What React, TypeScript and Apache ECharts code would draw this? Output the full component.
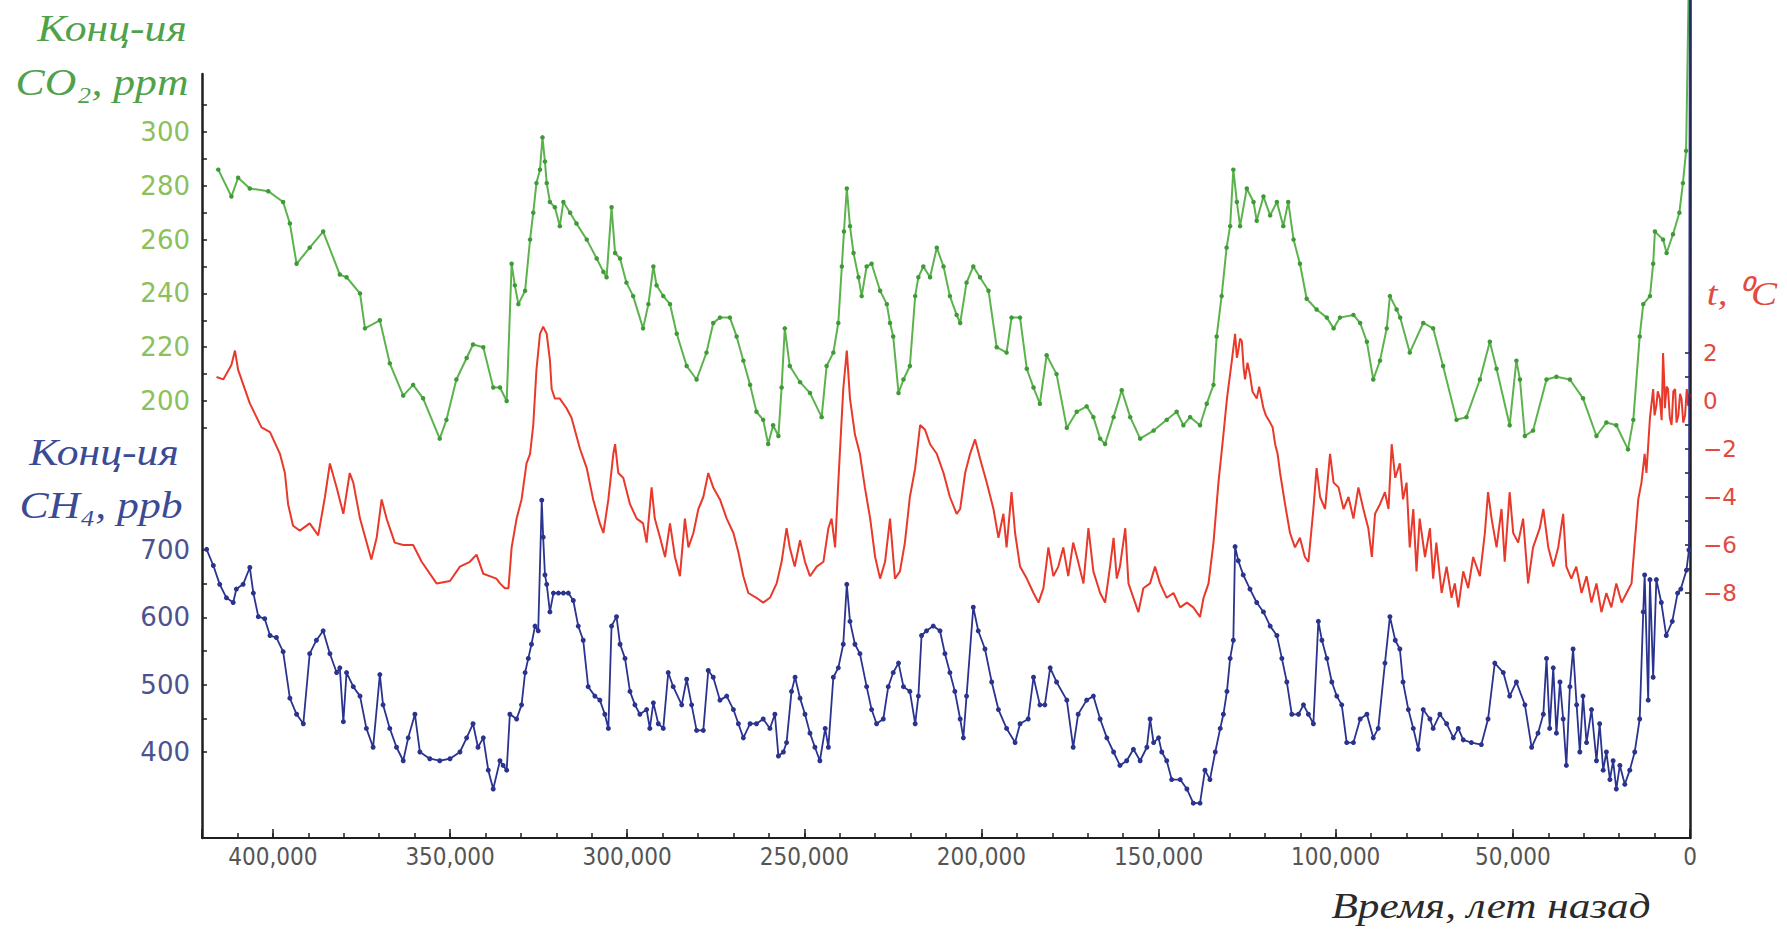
import React, { useEffect, useRef } from 'react';
import * as echarts from 'echarts';

// Vostok ice core record: [age, kyr before present, value]
const co2Ppm: [number, number][] = [
  [415.4, 286], [411.7, 276], [409.8, 283], [406.5, 279], [401.3, 278], [397.1, 274], [395.2, 266], [393.3, 251],
  [389.6, 257], [385.8, 263], [381.1, 247], [379.2, 246], [375.4, 240], [374.0, 227], [369.8, 230], [367.0, 214],
  [363.2, 202], [360.4, 206], [357.6, 201], [352.9, 186], [351.0, 193], [348.2, 208], [345.3, 216], [343.5, 221],
  [340.6, 220], [337.8, 205], [335.9, 205], [334.0, 200], [332.6, 251], [331.7, 243], [330.7, 236], [328.8, 241],
  [327.4, 260], [326.5, 270], [325.6, 281], [324.6, 286], [323.9, 298], [323.2, 289], [322.7, 281], [321.8, 274],
  [320.4, 272], [319.0, 265], [318.0, 274], [316.1, 270], [314.3, 266], [311.4, 260], [308.6, 253], [306.7, 248],
  [305.8, 246], [304.4, 272], [303.4, 255], [302.0, 253], [300.2, 244], [298.3, 239], [295.5, 227], [294.0, 236],
  [292.6, 250], [291.7, 243], [289.8, 239], [287.9, 236], [286.0, 225], [283.2, 213], [280.4, 208], [277.6, 218],
  [275.7, 229], [273.8, 231], [271.0, 231], [269.1, 224], [267.2, 215], [265.3, 206], [263.5, 196], [261.6, 193],
  [260.2, 184], [258.8, 191], [257.3, 187], [256.4, 205], [255.5, 227], [254.1, 213], [251.2, 207], [248.4, 203],
  [245.1, 194], [243.7, 213], [241.8, 218], [240.4, 229], [239.4, 250], [238.8, 263], [238.0, 279], [237.1, 265],
  [236.1, 255], [234.7, 246], [233.8, 239], [232.4, 250], [231.0, 251], [228.6, 241], [226.7, 236], [225.8, 229],
  [224.9, 224], [223.4, 203], [222.0, 208], [220.2, 213], [218.7, 239], [217.8, 246], [216.4, 250], [214.5, 246],
  [212.6, 257], [210.7, 250], [208.9, 239], [207.0, 232], [206.0, 229], [204.2, 244], [202.3, 250], [200.4, 246],
  [198.0, 241], [195.7, 220], [192.9, 218], [191.5, 231], [189.1, 231], [187.2, 212], [185.3, 205], [183.5, 199],
  [181.6, 217], [178.8, 210], [175.9, 190], [173.1, 196], [170.3, 198], [168.4, 194], [166.5, 186], [165.1, 184],
  [162.7, 194], [160.4, 204], [158.0, 194], [155.2, 186], [151.4, 189], [147.7, 193], [144.9, 196], [143.0, 191],
  [141.1, 194], [138.3, 191], [136.4, 199], [134.5, 206], [133.6, 224], [132.2, 239], [130.8, 257], [129.8, 265],
  [128.9, 286], [127.9, 274], [127.0, 265], [125.1, 279], [123.2, 274], [122.3, 267], [120.4, 276], [118.5, 269],
  [116.6, 274], [114.8, 265], [113.4, 274], [111.9, 260], [110.1, 251], [108.2, 238], [105.4, 234], [102.5, 231],
  [100.6, 227], [98.8, 231], [95.0, 232], [93.1, 229], [91.2, 222], [89.4, 208], [87.5, 215], [85.6, 227],
  [84.7, 239], [82.8, 234], [81.8, 231], [79.1, 218], [75.3, 229], [72.5, 227], [69.7, 213], [65.9, 193],
  [63.1, 194], [59.3, 208], [56.5, 222], [54.6, 212], [50.9, 191], [49.0, 215], [48.0, 208], [46.6, 187],
  [44.3, 189], [40.5, 208], [37.7, 209], [33.9, 208], [30.2, 201], [26.4, 187], [23.6, 192], [20.8, 191],
  [17.5, 182], [16.0, 193], [14.2, 224], [13.2, 236], [11.3, 239], [10.4, 251], [9.9, 263], [7.6, 260],
  [6.6, 255], [4.8, 262], [3.0, 270], [2.0, 281], [1.1, 293], [0, 385],
];

const tempC: [number, number][] = [
  [415.9, 1.0], [414.0, 0.9], [411.7, 1.5], [410.7, 2.1], [409.8, 1.3], [406.5, -0.1], [403.2, -1.1], [400.8, -1.3],
  [398.0, -2.2], [396.6, -3.0], [395.7, -4.3], [394.3, -5.2], [392.4, -5.4], [389.6, -5.1], [387.2, -5.6], [385.3, -4.0],
  [383.9, -2.6], [382.0, -3.6], [380.1, -4.7], [378.3, -3.0], [377.3, -3.4], [375.4, -4.9], [372.2, -6.6], [370.7, -5.7],
  [369.3, -4.1], [367.9, -4.9], [365.6, -5.9], [363.2, -6.0], [360.4, -6.0], [358.0, -6.7], [353.8, -7.6], [350.0, -7.5],
  [347.2, -6.9], [344.4, -6.7], [342.5, -6.4], [340.6, -7.2], [336.9, -7.4], [335.9, -7.6], [334.5, -7.8], [333.5, -7.8],
  [332.6, -6.1], [331.2, -4.9], [329.8, -4.1], [328.4, -2.6], [327.4, -2.2], [326.5, -1.0], [325.6, 1.3], [324.6, 2.8],
  [323.7, 3.1], [322.7, 2.8], [321.8, 1.7], [321.3, 0.5], [320.4, 0.1], [319.0, 0.1], [317.1, -0.3], [315.7, -0.7],
  [313.3, -2.0], [311.4, -2.8], [309.6, -4.1], [307.7, -5.1], [306.7, -5.5], [305.3, -4.1], [303.9, -2.2], [303.4, -1.8],
  [302.5, -3.0], [301.1, -3.2], [299.2, -4.3], [297.3, -4.9], [295.5, -5.1], [294.5, -5.9], [293.1, -3.6], [292.2, -4.9],
  [290.7, -5.7], [289.3, -6.5], [287.9, -5.1], [286.5, -6.5], [285.1, -7.3], [283.7, -4.9], [282.7, -6.1], [281.3, -5.5],
  [279.9, -4.5], [278.5, -4.0], [277.1, -3.0], [275.7, -3.6], [273.8, -4.1], [271.9, -4.9], [270.0, -5.5], [268.6, -6.3],
  [267.2, -7.3], [265.8, -8.0], [263.5, -8.2], [261.6, -8.4], [259.7, -8.2], [257.8, -7.6], [256.4, -6.7], [255.0, -5.3],
  [254.1, -6.1], [252.7, -6.9], [251.2, -5.8], [249.8, -6.7], [248.4, -7.3], [246.5, -6.9], [244.6, -6.7], [243.2, -5.3],
  [242.3, -4.9], [241.3, -6.1], [240.4, -3.4], [239.0, 0.5], [238.0, 2.1], [237.1, 0.1], [235.7, -1.4], [234.3, -2.2],
  [232.9, -3.6], [231.4, -4.9], [230.0, -6.5], [228.6, -7.4], [227.2, -6.7], [225.8, -4.9], [224.4, -7.4], [223.0, -7.1],
  [221.6, -5.9], [220.2, -4.0], [218.7, -2.8], [217.3, -1.0], [215.9, -1.2], [214.5, -1.8], [212.6, -2.2], [210.7, -3.0],
  [208.9, -4.0], [207.0, -4.7], [206.0, -4.5], [204.6, -3.0], [203.2, -2.2], [201.8, -1.6], [200.4, -2.4], [198.5, -3.4],
  [196.6, -4.5], [195.2, -5.7], [193.8, -4.7], [192.9, -6.1], [191.5, -3.8], [190.5, -5.5], [189.1, -6.9], [187.2, -7.4],
  [185.3, -8.0], [183.9, -8.4], [182.5, -7.8], [181.1, -6.1], [179.7, -7.3], [178.3, -6.9], [176.9, -6.1], [175.5, -7.3],
  [174.1, -5.9], [172.7, -6.7], [171.2, -7.6], [169.8, -5.3], [168.4, -7.1], [166.5, -8.0], [165.1, -8.4], [163.7, -6.9],
  [162.7, -5.7], [161.8, -7.4], [160.9, -6.9], [159.4, -5.3], [158.5, -7.6], [157.1, -8.2], [155.7, -8.8], [154.3, -7.8],
  [152.4, -7.6], [151.0, -6.9], [149.6, -7.6], [147.7, -8.2], [145.8, -8.0], [143.9, -8.6], [142.0, -8.4], [140.2, -8.6],
  [138.3, -9.0], [137.3, -8.2], [135.9, -7.6], [134.5, -5.9], [133.1, -3.4], [131.7, -1.4], [130.7, 0.1], [129.3, 1.7],
  [128.4, 2.8], [127.9, 1.8], [127.5, 2.1], [127.0, 2.6], [126.5, 2.5], [126.0, 1.4], [125.6, 0.9], [124.9, 1.6],
  [124.2, 1.1], [123.5, 0.4], [122.3, 0.1], [121.6, 0.6], [120.4, -0.3], [119.7, -0.6], [118.5, -0.9], [117.8, -1.1],
  [117.1, -1.8], [116.4, -2.2], [115.7, -3.0], [114.3, -4.3], [112.9, -5.5], [111.5, -6.1], [110.1, -5.7], [108.7, -6.5],
  [107.7, -6.7], [106.3, -4.5], [105.4, -2.8], [104.4, -4.0], [103.0, -4.5], [101.6, -2.2], [100.6, -3.4], [99.2, -3.6],
  [97.8, -4.5], [96.4, -4.0], [95.0, -4.9], [93.6, -3.6], [92.2, -4.5], [90.8, -5.3], [89.8, -6.5], [88.9, -4.7],
  [87.5, -4.3], [86.1, -3.8], [85.1, -4.5], [84.2, -1.8], [83.2, -3.2], [81.9, -2.6], [81.0, -4.1], [80.0, -3.4],
  [79.1, -6.1], [78.1, -4.5], [77.2, -7.1], [76.3, -4.9], [74.8, -6.5], [73.4, -5.3], [72.5, -7.4], [71.6, -5.9],
  [70.1, -8.0], [68.7, -6.9], [67.3, -8.2], [66.4, -7.6], [65.4, -8.6], [64.0, -7.1], [62.6, -7.8], [61.2, -6.5],
  [59.3, -7.3], [57.9, -5.5], [57.0, -3.8], [56.0, -4.9], [54.6, -6.1], [53.2, -4.5], [52.3, -6.7], [50.9, -3.8],
  [49.9, -5.5], [48.5, -5.9], [47.1, -4.9], [45.7, -7.6], [44.3, -6.1], [42.4, -5.3], [41.4, -4.5], [40.0, -6.1],
  [38.6, -6.9], [37.2, -6.1], [35.8, -4.7], [34.9, -6.9], [33.5, -7.4], [32.1, -6.9], [30.6, -8.0], [29.2, -7.3],
  [27.8, -8.4], [26.4, -7.6], [25.0, -8.8], [23.6, -8.0], [22.2, -8.6], [20.8, -7.6], [19.3, -8.4], [17.9, -8.0],
  [16.5, -7.6], [15.6, -5.9], [14.6, -4.1], [13.7, -3.4], [12.8, -2.2], [12.3, -3.0], [11.3, -0.7], [10.4, 0.5],
  [10.0, -0.6], [9.5, -0.2], [9.1, 0.4], [8.5, 0.1], [8.0, -0.8], [7.6, 2.0], [7.3, 0.9], [7.1, -0.3],
  [6.6, 0.6], [6.2, 0.5], [5.7, -0.7], [5.2, -1.0], [4.7, 0.4], [4.2, 0.5], [3.8, -0.9], [3.3, -0.6],
  [2.8, 0.3], [2.4, 0.1], [1.9, -0.9], [1.4, -0.6], [0.9, 0.5], [0.5, -0.2], [0.1, 0.3],
];

const ch4Ppb: [number, number][] = [
  [418.7, 701], [416.8, 677], [415.0, 649], [413.1, 629], [411.2, 622], [410.3, 642], [408.4, 649], [406.5, 674],
  [405.5, 636], [404.1, 601], [402.3, 598], [400.8, 573], [399.0, 570], [397.1, 549], [395.2, 480], [393.3, 456],
  [391.4, 442], [389.6, 546], [387.7, 566], [385.8, 580], [383.9, 546], [382.0, 518], [381.1, 525], [380.1, 445],
  [379.2, 518], [377.3, 497], [375.4, 483], [373.6, 435], [371.7, 407], [369.8, 515], [368.9, 470], [367.0, 435],
  [365.1, 407], [363.2, 387], [361.8, 421], [359.9, 456], [358.5, 400], [355.7, 390], [352.9, 387], [350.0, 390],
  [347.2, 400], [345.3, 421], [343.5, 442], [342.1, 407], [340.6, 421], [339.2, 373], [337.8, 345], [335.9, 387],
  [335.0, 380], [334.0, 373], [333.1, 456], [331.2, 449], [329.8, 470], [328.8, 518], [327.9, 539], [327.0, 560],
  [326.0, 587], [325.1, 580], [324.1, 774], [323.7, 719], [323.2, 663], [322.7, 649], [321.8, 608], [320.8, 636],
  [319.4, 636], [318.0, 636], [316.6, 636], [315.2, 625], [313.8, 587], [312.4, 566], [311.0, 497], [309.1, 483],
  [307.7, 477], [306.3, 456], [305.3, 435], [304.4, 587], [303.0, 601], [302.0, 560], [300.6, 539], [299.2, 490],
  [297.8, 470], [296.4, 456], [294.5, 463], [293.6, 435], [292.6, 473], [291.2, 442], [289.8, 435], [288.4, 518],
  [287.0, 497], [284.6, 470], [283.2, 508], [281.8, 470], [280.4, 432], [278.5, 432], [277.1, 521], [275.7, 511],
  [273.8, 477], [271.9, 483], [270.0, 463], [268.6, 442], [267.2, 421], [265.3, 442], [263.5, 442], [261.6, 449],
  [259.7, 435], [258.3, 456], [257.3, 394], [255.9, 400], [255.0, 414], [253.6, 490], [252.6, 511], [251.2, 480],
  [249.8, 456], [248.4, 428], [247.0, 407], [245.6, 387], [244.1, 435], [243.2, 407], [241.8, 511], [240.4, 525],
  [239.0, 560], [238.0, 649], [237.1, 594], [235.7, 560], [234.3, 546], [232.4, 497], [231.0, 463], [229.6, 442],
  [227.7, 449], [226.3, 497], [224.9, 518], [223.4, 532], [222.0, 497], [220.2, 490], [218.7, 442], [217.8, 483],
  [216.9, 573], [215.5, 580], [213.6, 587], [211.7, 580], [210.3, 546], [208.9, 518], [207.5, 490], [206.0, 449],
  [205.1, 421], [204.2, 483], [202.3, 615], [200.9, 580], [199.0, 553], [197.1, 504], [195.2, 463], [192.9, 435],
  [190.5, 414], [189.1, 442], [186.8, 449], [185.3, 511], [183.5, 470], [182.1, 470], [180.6, 525], [178.8, 504],
  [175.9, 477], [174.1, 407], [172.7, 456], [170.3, 477], [168.4, 483], [166.5, 449], [164.6, 421], [162.7, 400],
  [160.9, 380], [159.0, 387], [157.1, 404], [155.2, 387], [153.3, 407], [152.4, 449], [151.4, 414], [150.0, 421],
  [149.1, 400], [147.7, 387], [146.3, 359], [143.9, 359], [142.0, 345], [140.2, 324], [138.3, 324], [136.9, 373],
  [135.5, 359], [134.0, 400], [132.6, 435], [131.7, 456], [130.7, 490], [129.8, 539], [128.9, 566], [128.4, 705],
  [127.5, 684], [126.1, 663], [124.2, 642], [122.3, 622], [120.4, 608], [118.5, 587], [116.6, 573], [115.2, 539],
  [113.8, 504], [112.4, 456], [110.5, 456], [109.1, 470], [107.7, 456], [106.3, 442], [104.9, 594], [103.9, 566],
  [102.5, 539], [101.1, 504], [99.7, 483], [98.3, 470], [96.9, 414], [95.0, 414], [93.1, 449], [91.2, 456],
  [89.4, 421], [88.0, 435], [86.1, 532], [84.7, 601], [83.2, 566], [81.9, 553], [81.0, 504], [79.5, 463],
  [78.1, 435], [76.7, 404], [75.3, 463], [73.4, 449], [72.5, 435], [70.6, 456], [68.7, 442], [66.8, 421],
  [65.4, 435], [64.0, 418], [61.7, 414], [58.9, 411], [57.0, 449], [55.1, 532], [52.7, 518], [50.9, 483],
  [49.0, 504], [46.6, 470], [44.7, 407], [42.9, 428], [41.4, 456], [40.5, 539], [39.6, 435], [38.6, 525],
  [37.7, 428], [36.7, 504], [35.8, 449], [34.9, 380], [33.9, 497], [33.0, 553], [32.0, 470], [31.1, 400],
  [30.2, 483], [29.2, 414], [27.8, 463], [26.4, 387], [25.5, 442], [24.5, 373], [23.6, 400], [22.6, 359],
  [21.7, 387], [20.8, 345], [19.8, 380], [18.4, 352], [17.0, 373], [15.6, 400], [14.2, 449], [13.2, 608],
  [12.8, 663], [11.8, 477], [11.3, 656], [10.4, 511], [9.5, 656], [8.1, 622], [6.7, 573], [5.0, 594],
  [3.5, 636], [2.6, 642], [1.0, 670], [0.3, 700], [0, 1750],
];

// Tick labels shown on each axis
const ageLabels = [400000, 350000, 300000, 250000, 200000, 150000, 100000, 50000, 0];
const co2Labels = [200, 220, 240, 260, 280, 300];
const ch4Labels = [400, 500, 600, 700];
const tempLabels = [2, 0, -2, -4, -6, -8];

// Plot frame (px)
const PLOT_LEFT = 202;
const PLOT_WIDTH = 1488;
const FRAME_TOP = 74;
const FRAME_BOTTOM = 838;

// Each variable sits in its own band of the shared frame
const CO2_MIN = 190, CO2_MAX = 310, CO2_PX = 2.69, CO2_Y200 = 401;
const CH4_MIN = 400, CH4_MAX = 700, CH4_PX = 0.6733, CH4_Y700 = 550;
const T_MIN = -8, T_MAX = 2, T_PX = 24, T_Y0 = 401;

const AGE_MAX = 420000;

const GREEN_LINE = '#5cb34d';
const GREEN_DOT = '#3f9a38';
const GREEN_TITLE = '#4fa24a';
const GREEN_LABEL = '#8cc05c';
const BLUE_LINE = '#2a338e';
const BLUE_TITLE = '#3b4a94';
const BLUE_LABEL = '#4b5290';
const RED_LINE = '#e8392b';
const RED_LABEL = '#e24a40';
const AXIS = '#1e1e1e';

const toYears = (pts: [number, number][]) => pts.map(([a, v]) => [a * 1000, v]);

const hiddenX = (gridIndex: number) => ({
  type: 'value' as const,
  gridIndex,
  min: 0,
  max: AGE_MAX,
  inverse: true,
  show: false,
  axisLine: { show: false, onZero: false },
});

const bandGrid = (top: number, height: number) => ({
  left: PLOT_LEFT,
  width: PLOT_WIDTH,
  top,
  height,
  containLabel: false,
  outerBoundsMode: 'none',
});

const serif = '"Liberation Serif", "Times New Roman", serif';
const labelFont = '"DejaVu Sans", Verdana, sans-serif';
const narrowFont = '"Liberation Sans Narrow", "Arial Narrow", "DejaVu Sans Condensed", "Liberation Sans", sans-serif';

const titleText = (text: string, x: number, y: number, fill: string, fontSize: number, scaleX = 1.15) => ({
  type: 'text',
  x,
  y,
  scaleX,
  silent: true,
  style: {
    text,
    fill,
    fontSize,
    fontFamily: serif,
    fontStyle: 'italic',
    align: 'center',
    verticalAlign: 'middle',
  },
});

const fmtTemp = (v: number) => (v < 0 ? '\u2212' + Math.abs(v) : String(v));

const bandTick = { show: true, inside: true, length: 5, lineStyle: { color: AXIS, width: 1.5 } };

function buildOption(): any {
  const co2Top = CO2_Y200 - (CO2_MAX - 200) * CO2_PX;
  const co2Height = (CO2_MAX - CO2_MIN) * CO2_PX;
  const ch4Top = CH4_Y700 - (CH4_MAX - 700) * CH4_PX;
  const ch4Height = (CH4_MAX - CH4_MIN) * CH4_PX;
  const tTop = T_Y0 - T_MAX * T_PX;
  const tHeight = (T_MAX - T_MIN) * T_PX;

  return {
    animation: false,
    backgroundColor: '#ffffff',
    grid: [
      bandGrid(FRAME_TOP, FRAME_BOTTOM - FRAME_TOP),
      bandGrid(co2Top, co2Height),
      bandGrid(ch4Top, ch4Height),
      bandGrid(tTop, tHeight),
      bandGrid(0, FRAME_BOTTOM),
    ],
    xAxis: [
      {
        type: 'value',
        gridIndex: 0,
        position: 'bottom',
        min: 0,
        max: AGE_MAX,
        inverse: true,
        interval: 50000,
        axisLine: { show: true, onZero: false, lineStyle: { color: AXIS, width: 2 } },
        axisTick: { show: true, inside: true, length: 9, lineStyle: { color: AXIS, width: 1.5 } },
        axisLabel: {
          show: true,
          margin: 7,
          color: '#555555',
          fontSize: 24,
          fontFamily: narrowFont,
          formatter: (v: number) => (ageLabels.includes(v) ? v.toLocaleString('en-US') : ''),
        },
        splitLine: { show: false },
      },
      hiddenX(1),
      hiddenX(2),
      hiddenX(3),
      {
        type: 'value',
        gridIndex: 4,
        position: 'bottom',
        min: 0,
        max: AGE_MAX,
        inverse: true,
        interval: 10000,
        axisLine: { show: false, onZero: false },
        axisTick: { show: true, inside: true, length: 5, lineStyle: { color: AXIS, width: 1.5 } },
        axisLabel: { show: false },
        splitLine: { show: false },
      },
    ],
    yAxis: [
      {
        type: 'value',
        gridIndex: 0,
        position: 'left',
        min: 0,
        max: 1,
        axisLine: { show: true, onZero: false, lineStyle: { color: AXIS, width: 2.5 } },
        axisTick: { show: false },
        axisLabel: { show: false },
        splitLine: { show: false },
      },
      {
        type: 'value',
        gridIndex: 1,
        position: 'left',
        min: CO2_MIN,
        max: CO2_MAX,
        interval: 10,
        axisLine: { show: false, onZero: false },
        axisTick: bandTick,
        axisLabel: {
          margin: 12,
          color: GREEN_LABEL,
          fontSize: 26,
          fontFamily: labelFont,
          formatter: (v: number) => (co2Labels.includes(v) ? String(v) : ''),
        },
        splitLine: { show: false },
      },
      {
        type: 'value',
        gridIndex: 2,
        position: 'left',
        min: CH4_MIN,
        max: CH4_MAX,
        interval: 50,
        axisLine: { show: false, onZero: false },
        axisTick: bandTick,
        axisLabel: {
          margin: 12,
          color: BLUE_LABEL,
          fontSize: 26,
          fontFamily: labelFont,
          formatter: (v: number) => (ch4Labels.includes(v) ? String(v) : ''),
        },
        splitLine: { show: false },
      },
      {
        type: 'value',
        gridIndex: 3,
        position: 'right',
        min: T_MIN,
        max: T_MAX,
        interval: 1,
        axisLine: { show: false, onZero: false },
        axisTick: bandTick,
        axisLabel: {
          margin: 13,
          color: RED_LABEL,
          fontSize: 23,
          fontFamily: labelFont,
          formatter: (v: number) => (tempLabels.includes(v) ? fmtTemp(v) : ''),
        },
        splitLine: { show: false },
      },
      {
        type: 'value',
        gridIndex: 4,
        position: 'right',
        min: 0,
        max: 1,
        axisLine: { show: true, onZero: false, lineStyle: { color: AXIS, width: 2.5 } },
        axisTick: { show: false },
        axisLabel: { show: false },
        splitLine: { show: false },
      },
    ],
    series: [
      {
        type: 'line',
        name: 'CO2',
        xAxisIndex: 1,
        yAxisIndex: 1,
        data: toYears(co2Ppm),
        symbol: 'circle',
        symbolSize: 4.5,
        showSymbol: true,
        showAllSymbol: true,
        clip: false,
        silent: true,
        lineStyle: { color: GREEN_LINE, width: 2 },
        itemStyle: { color: GREEN_DOT },
        z: 3,
      },
      {
        type: 'line',
        name: 'T',
        xAxisIndex: 3,
        yAxisIndex: 3,
        data: toYears(tempC),
        symbol: 'none',
        clip: false,
        silent: true,
        lineStyle: { color: RED_LINE, width: 2 },
        z: 2,
      },
      {
        type: 'line',
        name: 'CH4',
        xAxisIndex: 2,
        yAxisIndex: 2,
        data: toYears(ch4Ppb),
        symbol: 'circle',
        symbolSize: 5,
        showSymbol: true,
        showAllSymbol: true,
        clip: false,
        silent: true,
        lineStyle: { color: BLUE_LINE, width: 1.8 },
        itemStyle: { color: BLUE_LINE },
        z: 3,
      },
    ],
    graphic: [
      titleText('Конц-ия', 112, 28, GREEN_TITLE, 38),
      titleText('CO\u2082, ppm', 102, 82, GREEN_TITLE, 38),
      titleText('Конц-ия', 104, 452, BLUE_TITLE, 38),
      titleText('CH\u2084, ppb', 101, 505, BLUE_TITLE, 38),
      titleText('t, \u2070C', 1742, 293, RED_LABEL, 34),
      titleText('Время, лет назад', 1491, 906, '#2a2a2a', 36, 1.2),
    ],
  };
}

export default function App() {
  const ref = useRef<HTMLDivElement>(null);

  useEffect(() => {
    if (!ref.current) return;
    const chart = echarts.init(ref.current, undefined, { renderer: 'svg' });
    chart.setOption(buildOption());
    return () => {
      chart.dispose();
    };
  }, []);

  return (
    <div
      ref={ref}
      style={{ position: 'absolute', left: 0, top: 0, width: 1787, height: 929, background: '#ffffff' }}
    />
  );
}
